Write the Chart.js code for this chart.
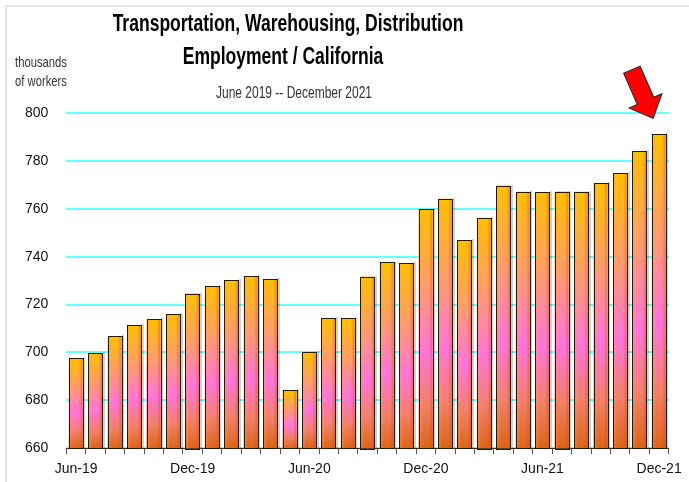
<!DOCTYPE html>
<html>
<head>
<meta charset="utf-8">
<script src="https://cdn.jsdelivr.net/npm/chart.js@4"></script>
<style>
  html, body { margin: 0; padding: 0; background: #fff; }
  #wrap { position: relative; width: 689px; height: 482px; }
  #frame { position: absolute; left: 5px; top: 5px; right: -2px; bottom: -2px; border-left: 2px solid #e4e4e4; border-top: 2px solid #e4e4e4; }
</style>
</head>
<body>
<div id="wrap">
  <div id="frame"></div>
  <canvas id="myChart" width="689" height="482"></canvas>
</div>
<script>
const months = ['Jun-19', 'Jul-19', 'Aug-19', 'Sep-19', 'Oct-19', 'Nov-19',
  'Dec-19', 'Jan-20', 'Feb-20', 'Mar-20', 'Apr-20', 'May-20',
  'Jun-20', 'Jul-20', 'Aug-20', 'Sep-20', 'Oct-20', 'Nov-20',
  'Dec-20', 'Jan-21', 'Feb-21', 'Mar-21', 'Apr-21', 'May-21',
  'Jun-21', 'Jul-21', 'Aug-21', 'Sep-21', 'Oct-21', 'Nov-21', 'Dec-21'];
const workers = [697.6, 699.8, 706.8, 711.3, 713.9, 716.0,
  724.6, 727.7, 730.3, 731.9, 730.7, 684.2,
  700.3, 714.4, 714.2, 731.7, 737.6, 737.4,
  759.7, 764.2, 746.8, 756.3, 769.7, 767.1,
  766.8, 767.2, 767.1, 770.7, 774.9, 784.1, 791.1];
const titleLines = ['Transportation, Warehousing, Distribution', 'Employment / California'];
const subtitle = 'June 2019 -- December 2021';
const unitLines = ['thousands', 'of workers'];

const sans = '"Liberation Sans", Arial, sans-serif';

// vertical gradient from each bar's top down to the axis
function barFill(c) {
  const chart = c.chart;
  if (!chart.chartArea || c.raw == null) return '#ffb000';
  const y = chart.scales.y;
  const top = y.getPixelForValue(c.raw);
  const bottom = y.getPixelForValue(y.min);
  const g = chart.ctx.createLinearGradient(0, top, 0, bottom);
  g.addColorStop(0, '#ffc000');
  g.addColorStop(0.3, '#ff9e66');
  g.addColorStop(0.6, '#ff74dc');
  g.addColorStop(0.82, '#f2806a');
  g.addColorStop(1, '#dd6414');
  return g;
}

// narrow text: regular font squeezed horizontally
function narrowText(ctx, text, x, y, scale, align) {
  ctx.save();
  ctx.translate(x, y);
  ctx.scale(scale, 1);
  ctx.textAlign = align;
  ctx.fillText(text, 0, 0);
  ctx.restore();
}

const decor = {
  id: 'decor',
  afterDatasetsDraw(chart) {
    const ctx = chart.ctx;
    const meta = chart.getDatasetMeta(0);
    const base = chart.chartArea.bottom;
    meta.data.forEach(bar => {
      const w = bar.width, x0 = bar.x - w / 2;
      const g = ctx.createLinearGradient(x0, 0, x0 + w, 0);
      g.addColorStop(0, 'rgba(255,170,0,0.45)');
      g.addColorStop(0.3, 'rgba(255,150,200,0)');
      g.addColorStop(0.7, 'rgba(200,80,0,0)');
      g.addColorStop(1, 'rgba(190,80,0,0.55)');
      ctx.save();
      // faint shadow to the right
      ctx.fillStyle = 'rgba(0,0,0,0.18)';
      ctx.fillRect(Math.round(x0 + w), Math.round(bar.y) - 1, 2, base - bar.y + 1);
      ctx.fillStyle = g;
      ctx.fillRect(x0 + 1, bar.y + 1, w - 2, base - bar.y - 1);
      ctx.strokeStyle = '#2a1a00';
      ctx.lineWidth = 1;
      ctx.strokeRect(Math.round(x0) + 0.5, Math.round(bar.y) + 0.5, Math.round(w) - 1, Math.round(base - bar.y));
      ctx.restore();
    });
    // red arrow pointing at the last bar
    const last = meta.data[meta.data.length - 1];
    const tipX = last.x - 6, tipY = last.y - 16;
    const ang = Math.atan2(48, 21);
    const len = 53, shaft = 9, head = 18, headLen = 19;
    ctx.save();
    ctx.translate(tipX, tipY);
    ctx.rotate(ang);
    ctx.beginPath();
    ctx.moveTo(0, 0);
    ctx.lineTo(-headLen, -head);
    ctx.lineTo(-headLen, -shaft);
    ctx.lineTo(-len, -shaft);
    ctx.lineTo(-len, shaft);
    ctx.lineTo(-headLen, shaft);
    ctx.lineTo(-headLen, head);
    ctx.closePath();
    ctx.fillStyle = '#ff0000';
    ctx.fill();
    ctx.strokeStyle = '#222';
    ctx.lineWidth = 1;
    ctx.stroke();
    ctx.restore();
  },
  afterDraw(chart) {
    const ctx = chart.ctx;
    ctx.save();
    ctx.textBaseline = 'alphabetic';
    ctx.fillStyle = '#000';
    ctx.font = 'bold 24px ' + sans;
    narrowText(ctx, titleLines[0], 288, 31, 0.73, 'center');
    narrowText(ctx, titleLines[1], 283, 64, 0.73, 'center');
    ctx.fillStyle = '#333';
    ctx.font = '16px ' + sans;
    narrowText(ctx, subtitle, 294, 98, 0.75, 'center');
    ctx.font = '15px ' + sans;
    narrowText(ctx, unitLines[0], 15, 67, 0.75, 'left');
    narrowText(ctx, unitLines[1], 15, 86, 0.75, 'left');
    ctx.restore();
  }
};

const chart = new Chart(document.getElementById('myChart').getContext('2d'), {
  type: 'bar',
  data: {
    labels: months,
    datasets: [{
      label: 'thousands of workers',
      data: workers,
      backgroundColor: barFill,
      borderWidth: 0,
      barPercentage: 0.75,
      categoryPercentage: 1
    }]
  },
  options: {
    responsive: false,
    animation: false,
    layout: { padding: { top: 113, left: 7, right: 20, bottom: -3 } },
    plugins: { legend: { display: false }, tooltip: { enabled: false } },
    scales: {
      x: {
        grid: { drawOnChartArea: false, drawTicks: true, tickLength: 6, color: '#555', offset: true },
        border: { color: '#333', width: 1 },
        ticks: {
          autoSkip: false, maxRotation: 0, padding: 7, color: '#111',
          font: { family: 'Liberation Sans, Arial', size: 14 },
          callback: (v, i) => (i % 6 === 0 ? months[i] : '')
        }
      },
      y: {
        min: 660, max: 800,
        grid: { color: '#66ffff', lineWidth: 2, drawTicks: false },
        border: { display: false },
        ticks: { stepSize: 20, padding: 18, color: '#111', font: { family: 'Liberation Sans, Arial', size: 14 } }
      }
    }
  },
  plugins: [decor]
});
</script>
</body>
</html>
